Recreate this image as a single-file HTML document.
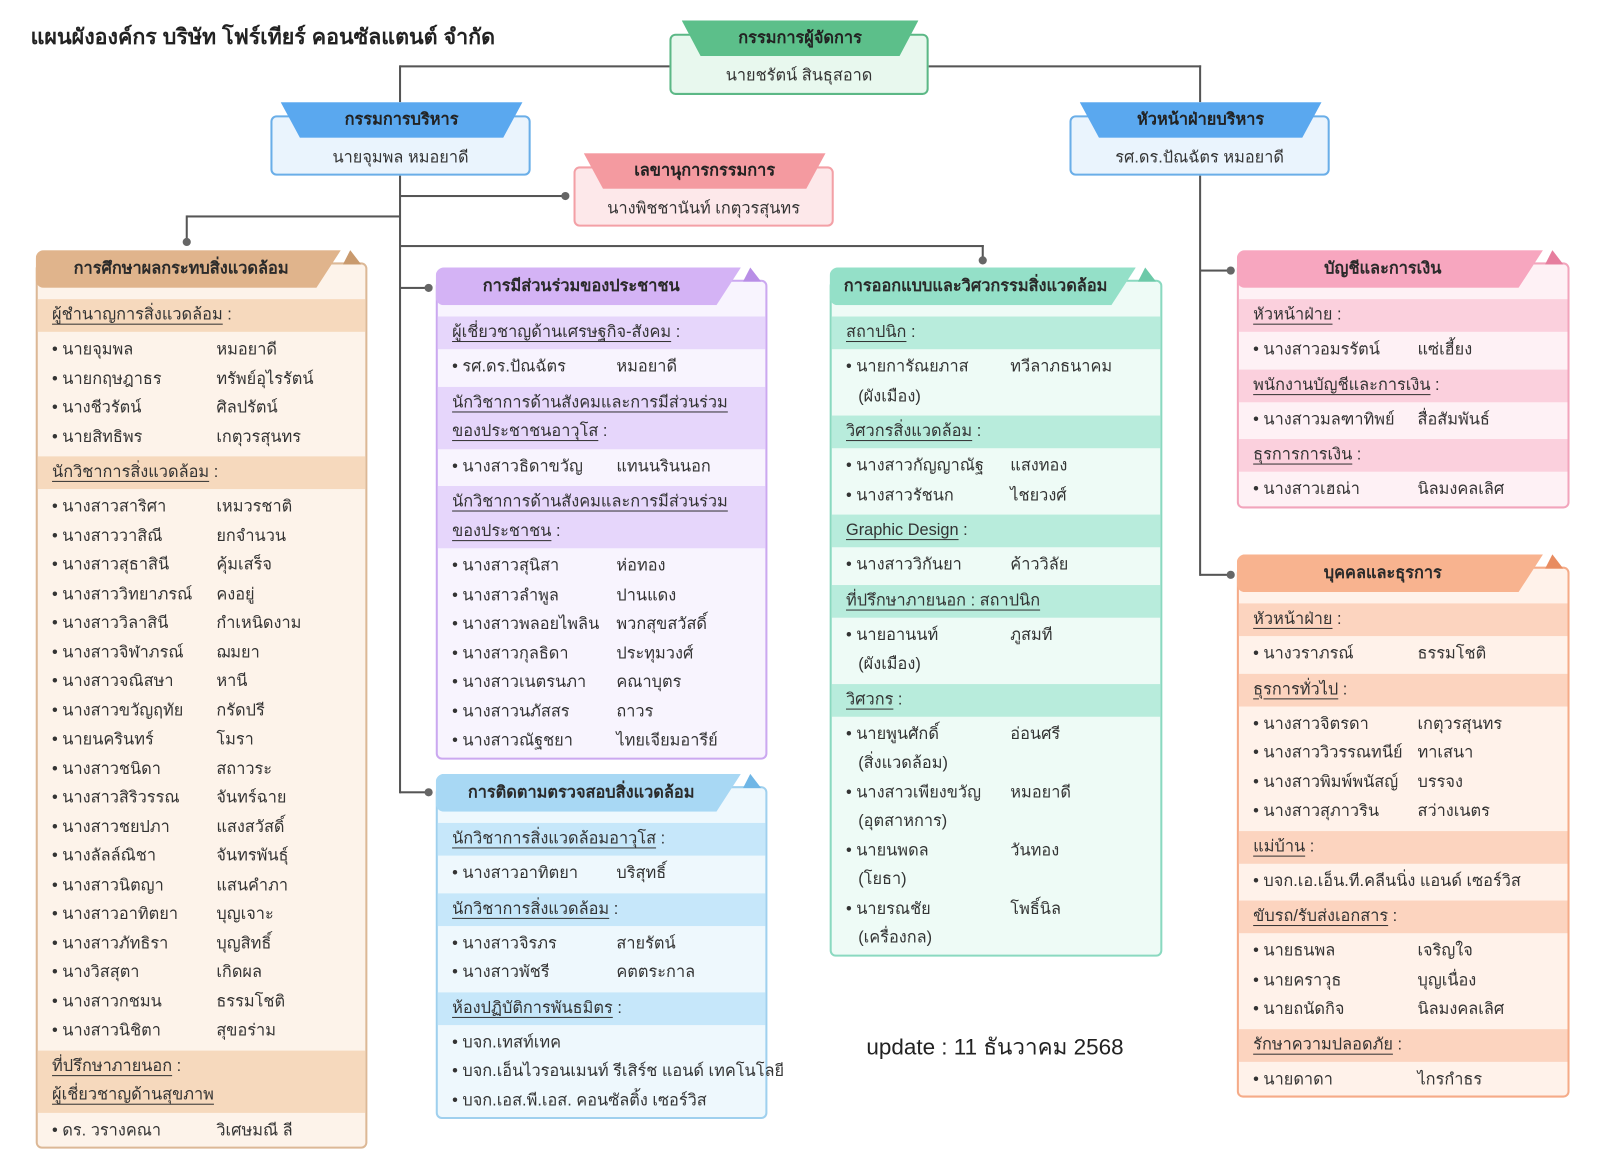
<!DOCTYPE html>
<html><head><meta charset="utf-8">
<style>
*{box-sizing:border-box;margin:0;padding:0}
html,body{width:1600px;height:1172px;overflow:hidden;background:#fff}
#w{position:absolute;left:0;top:0;width:1560px;height:1143px;transform:scale(1.0205,1.021);transform-origin:0 0;font-family:"Liberation Sans","DejaVu Sans","Noto Sans CJK SC",sans-serif;color:#333;font-size:16px}
.ln{position:absolute;background:#555}
.dot{position:absolute;width:8px;height:8px;border-radius:50%;background:#666}
.card{position:absolute;border:2px solid;border-radius:6px;padding:34px 0 0}
.card .g:last-child{padding-bottom:1px}
.hd{position:absolute;left:-2px;top:-14px;height:37px;width:calc(100% - 22px);clip-path:polygon(0 0,100% 0,calc(100% - 24px) 100%,0 100%);border-radius:8px 0 0 8px;font-weight:bold;font-size:16px;text-align:center;line-height:37px;color:#2a2a2a;padding-right:14px}
.fd{position:absolute;right:4px;top:-14px;width:18px;height:14px;clip-path:polygon(40% 0,100% 100%,0 100%)}
.sc{padding:0 14px;line-height:32px}
.sc2{padding:2px 14px;line-height:28.5px}
.sc span,.sc2 span{text-decoration:underline;text-underline-offset:4px}
.g{padding:4px 0}
.i{line-height:28.5px;padding-left:14px;position:relative;white-space:nowrap}
.i b{position:absolute;left:175px;top:0;font-weight:normal}
.i i{display:block;font-style:normal;padding-left:12px}
.top{position:absolute;border:2px solid;border-radius:6px;text-align:center}
.rb{position:absolute;height:35px;font-weight:bold;text-align:center;line-height:35px;color:#222;font-size:16px}
</style></head><body><div id="w">
<div style="position:absolute;left:30px;top:20px;font-size:21px;font-weight:bold;color:#222">แผนผังองค์กร บริษัท โฟร์เทียร์ คอนซัลแตนต์ จำกัด</div>
<div style="position:absolute;left:849px;top:1008px;font-size:22px;color:#222">update : 11 ธันวาคม 2568</div>

<!-- connectors -->
<div class="ln" style="left:392px;top:64px;width:264px;height:2px"></div>
<div class="ln" style="left:391px;top:64px;width:2px;height:36px"></div>
<div class="ln" style="left:910px;top:64px;width:267px;height:2px"></div>
<div class="ln" style="left:1175px;top:64px;width:2px;height:36px"></div>
<div class="ln" style="left:391px;top:172px;width:2px;height:605px"></div>
<div class="ln" style="left:392px;top:191px;width:162px;height:2px"></div>
<div class="dot" style="left:550px;top:188px"></div>
<div class="ln" style="left:183px;top:211px;width:209px;height:2px"></div>
<div class="ln" style="left:182px;top:211px;width:2px;height:26px"></div>
<div class="dot" style="left:179px;top:233px"></div>
<div class="ln" style="left:392px;top:240px;width:572px;height:2px"></div>
<div class="ln" style="left:962px;top:240px;width:2px;height:15px"></div>
<div class="dot" style="left:959px;top:251px"></div>
<div class="ln" style="left:392px;top:281px;width:28px;height:2px"></div>
<div class="dot" style="left:416px;top:278px"></div>
<div class="ln" style="left:392px;top:775px;width:28px;height:2px"></div>
<div class="dot" style="left:416px;top:772px"></div>
<div class="ln" style="left:1175px;top:172px;width:2px;height:392px"></div>
<div class="ln" style="left:1176px;top:264px;width:30px;height:2px"></div>
<div class="dot" style="left:1202px;top:261px"></div>
<div class="ln" style="left:1176px;top:562px;width:30px;height:2px"></div>
<div class="dot" style="left:1202px;top:559px"></div>

<!-- top nodes -->
<div class="top" style="left:656px;top:33px;width:254px;height:60px;background:#e8f8ee;border-color:#5cb886"><div style="position:absolute;left:0;right:0;top:28px;line-height:24px">นายชรัตน์ สินธุสอาด</div></div>
<div class="rb" style="left:668px;top:20px;width:232px;background:#5cbf8a;clip-path:polygon(0 0,100% 0,92% 100%,8% 100%);border-radius:0 0 10px 10px">กรรมการผู้จัดการ</div>

<div class="top" style="left:265px;top:113px;width:255px;height:59px;background:#eaf4fd;border-color:#6aaee8"><div style="position:absolute;left:0;right:0;top:28px;line-height:24px">นายจุมพล หมอยาดี</div></div>
<div class="rb" style="left:275px;top:100px;width:237px;background:#5aa8ef;clip-path:polygon(0 0,100% 0,92% 100%,8% 100%)">กรรมการบริหาร</div>

<div class="top" style="left:562px;top:163px;width:255px;height:59px;background:#fde8ea;border-color:#f3a0a6"><div style="position:absolute;left:0;right:0;top:28px;line-height:24px">นางพิชชานันท์ เกตุวรสุนทร</div></div>
<div class="rb" style="left:572px;top:150px;width:237px;background:#f49aa0;clip-path:polygon(0 0,100% 0,92% 100%,8% 100%)">เลขานุการกรรมการ</div>

<div class="top" style="left:1048px;top:113px;width:255px;height:59px;background:#eaf4fd;border-color:#6aaee8"><div style="position:absolute;left:0;right:0;top:28px;line-height:24px">รศ.ดร.ปัณฉัตร หมอยาดี</div></div>
<div class="rb" style="left:1058px;top:100px;width:237px;background:#5aa8ef;clip-path:polygon(0 0,100% 0,92% 100%,8% 100%)">หัวหน้าฝ่ายบริหาร</div>

<!-- card 1 brown -->
<div class="card" style="left:35px;top:257px;width:325px;border-color:#dcb896;background:#fdf3ea">
<div class="hd" style="background:#e0b48c">การศึกษาผลกระทบสิ่งแวดล้อม</div><div class="fd" style="background:#c99a6e"></div>
<div class="sc" style="background:#f6d9bd"><span>ผู้ชำนาญการสิ่งแวดล้อม</span> :</div>
<div class="g">
<div class="i">• นายจุมพล<b>หมอยาดี</b></div>
<div class="i">• นายกฤษฎาธร<b>ทรัพย์อุไรรัตน์</b></div>
<div class="i">• นางชีวรัตน์<b>ศิลปรัตน์</b></div>
<div class="i">• นายสิทธิพร<b>เกตุวรสุนทร</b></div>
</div>
<div class="sc" style="background:#f6d9bd"><span>นักวิชาการสิ่งแวดล้อม</span> :</div>
<div class="g">
<div class="i">• นางสาวสาริศา<b>เหมวรชาติ</b></div>
<div class="i">• นางสาววาสิณี<b>ยกจำนวน</b></div>
<div class="i">• นางสาวสุธาสินี<b>คุ้มเสร็จ</b></div>
<div class="i">• นางสาววิทยาภรณ์<b>คงอยู่</b></div>
<div class="i">• นางสาววิลาสินี<b>กำเหนิดงาม</b></div>
<div class="i">• นางสาวจิฬาภรณ์<b>ฌมยา</b></div>
<div class="i">• นางสาวจณิสษา<b>หานี</b></div>
<div class="i">• นางสาวขวัญฤทัย<b>กรัดปรี</b></div>
<div class="i">• นายนครินทร์<b>โมรา</b></div>
<div class="i">• นางสาวชนิดา<b>สถาวระ</b></div>
<div class="i">• นางสาวสิริวรรณ<b>จันทร์ฉาย</b></div>
<div class="i">• นางสาวชยปภา<b>แสงสวัสดิ์</b></div>
<div class="i">• นางลัลล์ณิชา<b>จันทรพันธุ์</b></div>
<div class="i">• นางสาวนิตญา<b>แสนคำภา</b></div>
<div class="i">• นางสาวอาทิตยา<b>บุญเจาะ</b></div>
<div class="i">• นางสาวภัทธิรา<b>บุญสิทธิ์</b></div>
<div class="i">• นางวิสสุตา<b>เกิดผล</b></div>
<div class="i">• นางสาวกชมน<b>ธรรมโชติ</b></div>
<div class="i">• นางสาวนิชิตา<b>สุขอร่าม</b></div>
</div>
<div class="sc2" style="background:#f6d9bd"><span>ที่ปรึกษาภายนอก</span> :<br><span>ผู้เชี่ยวชาญด้านสุขภาพ</span></div>
<div class="g">
<div class="i">• ดร. วรางคณา<b>วิเศษมณี ลี</b></div>
</div>
</div>

<!-- card 2 purple -->
<div class="card" style="left:427px;top:274px;width:325px;border-color:#cba8f0;background:#f8f4fe">
<div class="hd" style="background:#d4b3f5">การมีส่วนร่วมของประชาชน</div><div class="fd" style="background:#b88ee6"></div>
<div class="sc" style="background:#e6d6fb"><span>ผู้เชี่ยวชาญด้านเศรษฐกิจ-สังคม</span> :</div>
<div class="g"><div class="i">• รศ.ดร.ปัณฉัตร<b>หมอยาดี</b></div></div>
<div class="sc2" style="background:#e6d6fb"><span>นักวิชาการด้านสังคมและการมีส่วนร่วม</span><br><span>ของประชาชนอาวุโส</span> :</div>
<div class="g"><div class="i">• นางสาวธิดาขวัญ<b>แทนนรินนอก</b></div></div>
<div class="sc2" style="background:#e6d6fb"><span>นักวิชาการด้านสังคมและการมีส่วนร่วม</span><br><span>ของประชาชน</span> :</div>
<div class="g">
<div class="i">• นางสาวสุนิสา<b>ห่อทอง</b></div>
<div class="i">• นางสาวลำพูล<b>ปานแดง</b></div>
<div class="i">• นางสาวพลอยไพลิน<b>พวกสุขสวัสดิ์</b></div>
<div class="i">• นางสาวกุลธิดา<b>ประทุมวงศ์</b></div>
<div class="i">• นางสาวเนตรนภา<b>คณาบุตร</b></div>
<div class="i">• นางสาวนภัสสร<b>ถาวร</b></div>
<div class="i">• นางสาวณัฐชยา<b>ไทยเจียมอารีย์</b></div>
</div>
</div>

<!-- card 3 blue -->
<div class="card" style="left:427px;top:770px;width:325px;border-color:#9fd0ee;background:#eef8fd">
<div class="hd" style="background:#a8d8f4">การติดตามตรวจสอบสิ่งแวดล้อม</div><div class="fd" style="background:#6fb6e6"></div>
<div class="sc" style="background:#c6e7fa"><span>นักวิชาการสิ่งแวดล้อมอาวุโส</span> :</div>
<div class="g"><div class="i">• นางสาวอาทิตยา<b>บริสุทธิ์</b></div></div>
<div class="sc" style="background:#c6e7fa"><span>นักวิชาการสิ่งแวดล้อม</span> :</div>
<div class="g">
<div class="i">• นางสาวจิรภร<b>สายรัตน์</b></div>
<div class="i">• นางสาวพัชรี<b>คตตระกาล</b></div>
</div>
<div class="sc" style="background:#c6e7fa"><span>ห้องปฏิบัติการพันธมิตร</span> :</div>
<div class="g">
<div class="i">• บจก.เทสท์เทค</div>
<div class="i">• บจก.เอ็นไวรอนเมนท์ รีเสิร์ช แอนด์ เทคโนโลยี</div>
<div class="i">• บจก.เอส.พี.เอส. คอนซัลติ้ง เซอร์วิส</div>
</div>
</div>

<!-- card 4 teal -->
<div class="card" style="left:813px;top:274px;width:326px;border-color:#8ad9c0;background:#eefbf6">
<div class="hd" style="background:#94e0c8">การออกแบบและวิศวกรรมสิ่งแวดล้อม</div><div class="fd" style="background:#6cc9a8"></div>
<div class="sc" style="background:#b8ecdc"><span>สถาปนิก</span> :</div>
<div class="g"><div class="i">• นายการัณยภาส<b>ทวีลาภธนาคม</b><i>(ผังเมือง)</i></div></div>
<div class="sc" style="background:#b8ecdc"><span>วิศวกรสิ่งแวดล้อม</span> :</div>
<div class="g">
<div class="i">• นางสาวกัญญาณัฐ<b>แสงทอง</b></div>
<div class="i">• นางสาวรัชนก<b>ไชยวงศ์</b></div>
</div>
<div class="sc" style="background:#b8ecdc"><span>Graphic Design</span> :</div>
<div class="g"><div class="i">• นางสาววิกันยา<b>ค้าววิลัย</b></div></div>
<div class="sc" style="background:#b8ecdc"><span>ที่ปรึกษาภายนอก : สถาปนิก</span></div>
<div class="g"><div class="i">• นายอานนท์<b>ภูสมที</b><i>(ผังเมือง)</i></div></div>
<div class="sc" style="background:#b8ecdc"><span>วิศวกร</span> :</div>
<div class="g">
<div class="i">• นายพูนศักดิ์<b>อ่อนศรี</b><i>(สิ่งแวดล้อม)</i></div>
<div class="i">• นางสาวเพียงขวัญ<b>หมอยาดี</b><i>(อุตสาหการ)</i></div>
<div class="i">• นายนพดล<b>วันทอง</b><i>(โยธา)</i></div>
<div class="i">• นายรณชัย<b>โพธิ์นิล</b><i>(เครื่องกล)</i></div>
</div>
</div>

<!-- card 5 pink -->
<div class="card" style="left:1212px;top:257px;width:326px;border-color:#f2a5bc;background:#fef1f5">
<div class="hd" style="background:#f7a6bf">บัญชีและการเงิน</div><div class="fd" style="background:#e67e9e"></div>
<div class="sc" style="background:#fbd0dd"><span>หัวหน้าฝ่าย</span> :</div>
<div class="g"><div class="i">• นางสาวอมรรัตน์<b>แซ่เฮี้ยง</b></div></div>
<div class="sc" style="background:#fbd0dd"><span>พนักงานบัญชีและการเงิน</span> :</div>
<div class="g"><div class="i">• นางสาวมลฑาทิพย์<b>สื่อสัมพันธ์</b></div></div>
<div class="sc" style="background:#fbd0dd"><span>ธุรการการเงิน</span> :</div>
<div class="g"><div class="i">• นางสาวเฮณ่า<b>นิลมงคลเลิศ</b></div></div>
</div>

<!-- card 6 orange -->
<div class="card" style="left:1212px;top:555px;width:326px;border-color:#f5ab88;background:#fff2ea">
<div class="hd" style="background:#f8b38f">บุคคลและธุรการ</div><div class="fd" style="background:#e88c60"></div>
<div class="sc" style="background:#fcd4bf"><span>หัวหน้าฝ่าย</span> :</div>
<div class="g"><div class="i">• นางวราภรณ์<b>ธรรมโชติ</b></div></div>
<div class="sc" style="background:#fcd4bf"><span>ธุรการทั่วไป</span> :</div>
<div class="g">
<div class="i">• นางสาวจิตรดา<b>เกตุวรสุนทร</b></div>
<div class="i">• นางสาววิวรรณทนีย์<b>ทาเสนา</b></div>
<div class="i">• นางสาวพิมพ์พนัสญ์<b>บรรจง</b></div>
<div class="i">• นางสาวสุภาวริน<b>สว่างเนตร</b></div>
</div>
<div class="sc" style="background:#fcd4bf"><span>แม่บ้าน</span> :</div>
<div class="g"><div class="i">• บจก.เอ.เอ็น.ที.คลีนนิ่ง แอนด์ เซอร์วิส</div></div>
<div class="sc" style="background:#fcd4bf"><span>ขับรถ/รับส่งเอกสาร</span> :</div>
<div class="g">
<div class="i">• นายธนพล<b>เจริญใจ</b></div>
<div class="i">• นายคราวุธ<b>บุญเนื่อง</b></div>
<div class="i">• นายถนัดกิจ<b>นิลมงคลเลิศ</b></div>
</div>
<div class="sc" style="background:#fcd4bf"><span>รักษาความปลอดภัย</span> :</div>
<div class="g"><div class="i">• นายดาดา<b>ไกรกำธร</b></div></div>
</div>
</div></body></html>
